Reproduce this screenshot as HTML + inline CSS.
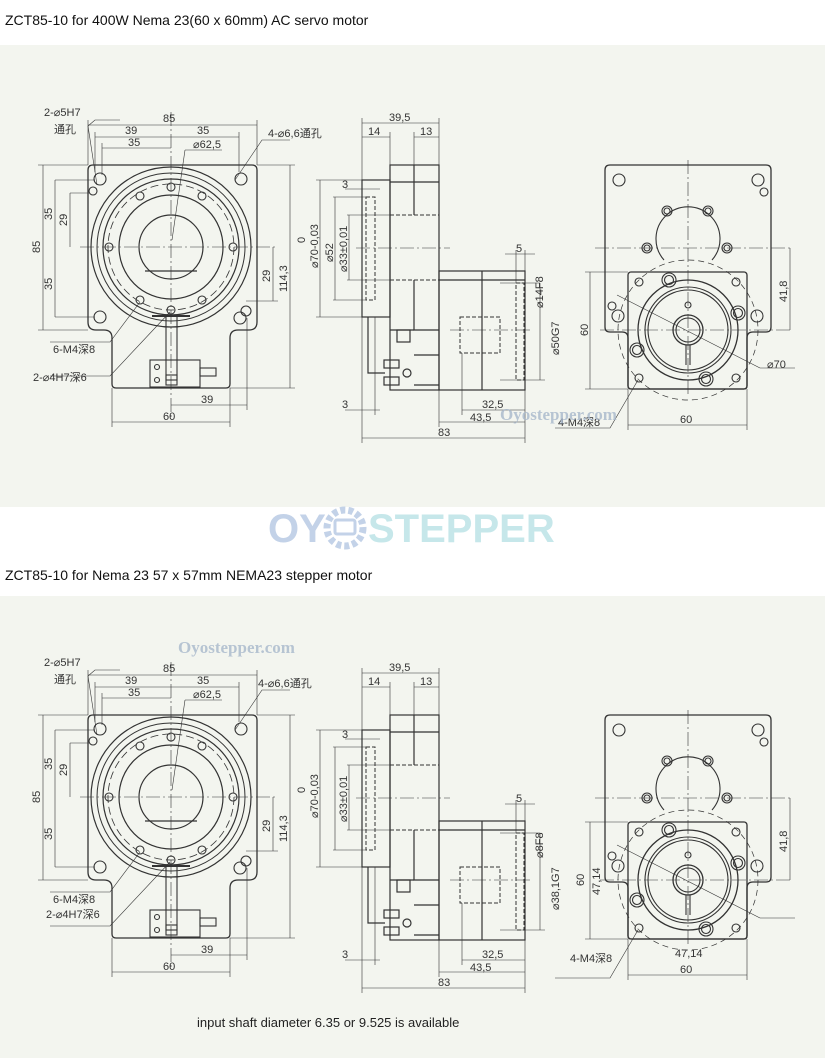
<!DOCTYPE html>
<html><head><meta charset="utf-8"><style>
html,body{margin:0;padding:0;background:#fff;width:825px;height:1058px;overflow:hidden}
svg{display:block}
text{font-family:"Liberation Sans","Noto Sans CJK SC",sans-serif;fill:#333}
.t{font-size:14px;fill:#111}
.d{font-size:11px}
</style></head><body>
<svg width="825" height="1058" viewBox="0 0 825 1058">
<defs>
<g id="dw" fill="none" stroke="#333">
 <!-- left view -->
 <path stroke-width="1.3" d="M88,170 Q88,165 93,165 L252,165 Q257,165 257,170 L257,322 Q257,330 249,330 L238,330 Q230,330 230,338 L230,384 Q230,388 226,388 L116,388 Q112,388 112,384 L112,338 Q112,330 104,330 L96,330 Q88,330 88,322 Z"/>
 <circle cx="171" cy="247" r="80" stroke-width="1.2"/>
 <circle cx="171" cy="247" r="74" stroke-width="1"/>
 <circle cx="171" cy="247" r="68" stroke-width="1.2"/>
 <circle cx="171" cy="247" r="63" stroke-width="0.8" stroke-dasharray="8 4"/>
 <circle cx="171" cy="247" r="52" stroke-width="1.2"/>
 <circle cx="171" cy="247" r="32" stroke-width="1.2"/>
 <line x1="145" y1="271" x2="197" y2="271" stroke-width="1.2"/>
 <g stroke-width="1.1">
 <circle cx="171" cy="187" r="4"/><circle cx="140" cy="196" r="4"/><circle cx="202" cy="196" r="4"/>
 <circle cx="109" cy="247" r="4"/><circle cx="233" cy="247" r="4"/><circle cx="140" cy="300" r="4"/>
 <circle cx="202" cy="300" r="4"/><circle cx="171" cy="310" r="4"/>
 <circle cx="100" cy="179" r="6"/><circle cx="241" cy="179" r="6"/><circle cx="100" cy="317" r="6"/>
 <circle cx="246" cy="311" r="5"/><circle cx="240" cy="318" r="6"/><circle cx="93" cy="191" r="4"/>
 <rect x="166" y="315" width="11" height="65"/><rect x="150" y="360" width="50" height="27"/>
 <rect x="200" y="368" width="16" height="8"/><line x1="152" y1="316" x2="190" y2="316" stroke-width="2"/>
 <circle cx="157" cy="367" r="2.5"/><circle cx="157" cy="380" r="2.5"/><rect x="166" y="375" width="11" height="10"/>
 </g>
 <g stroke-width="0.6" stroke-dasharray="14 3 2 3">
 <line x1="80" y1="247" x2="278" y2="247"/><line x1="171" y1="112" x2="171" y2="420"/>
 </g>
 <g stroke-width="0.6">
 <line x1="88" y1="120" x2="88" y2="165"/><line x1="257" y1="120" x2="257" y2="165"/>
 <line x1="88" y1="125" x2="257" y2="125"/>
 <line x1="95" y1="132" x2="95" y2="172"/><line x1="239" y1="132" x2="239" y2="172"/>
 <line x1="95" y1="137" x2="239" y2="137"/>
 <line x1="102" y1="143" x2="102" y2="175"/><line x1="102" y1="148" x2="171" y2="148"/>
 <line x1="38" y1="165" x2="88" y2="165"/><line x1="38" y1="330" x2="88" y2="330"/>
 <line x1="43" y1="165" x2="43" y2="330"/>
 <line x1="55" y1="180" x2="95" y2="180"/><line x1="55" y1="180" x2="55" y2="317"/><line x1="55" y1="317" x2="95" y2="317"/>
 <line x1="70" y1="193" x2="90" y2="193"/><line x1="70" y1="193" x2="70" y2="247"/>
 <line x1="273" y1="247" x2="273" y2="301"/><line x1="246" y1="301" x2="278" y2="301"/>
 <line x1="257" y1="165" x2="295" y2="165"/><line x1="230" y1="388" x2="295" y2="388"/>
 <line x1="290" y1="165" x2="290" y2="388"/>
 <line x1="171" y1="405" x2="247" y2="405"/><line x1="247" y1="318" x2="247" y2="410"/>
 <line x1="112" y1="388" x2="112" y2="427"/><line x1="230" y1="388" x2="230" y2="427"/>
 <line x1="112" y1="422" x2="230" y2="422"/>
 <polyline points="88,126 95,120 120,120"/><line x1="88" y1="126" x2="97" y2="185"/>
 <line x1="185" y1="150" x2="222" y2="150"/><line x1="185" y1="150" x2="172" y2="240"/>
 <polyline points="235,180 262,140 290,140"/>
 <polyline points="50,342 110,342 140,302"/>
 <polyline points="50,376 110,376 170,312"/>
 </g>
 <!-- middle view -->
 <g stroke-width="1.2">
 <rect x="362" y="180" width="28" height="137"/>
 <rect x="390" y="165" width="49" height="225"/>
 <polyline points="414,165 414,215"/><polyline points="414,280 414,330 439,330"/>
 <line x1="390" y1="182" x2="439" y2="182"/><line x1="390" y1="330" x2="414" y2="330"/>
 <rect x="397" y="330" width="13" height="12"/><rect x="439" y="271" width="86" height="119"/>
 <line x1="482" y1="271" x2="482" y2="390"/><line x1="439" y1="280" x2="525" y2="280"/>
 <line x1="414" y1="355" x2="439" y2="355"/><line x1="414" y1="385" x2="439" y2="385"/>
 <polyline points="368,317 368,373 385,373"/>
 <rect x="384" y="360" width="15" height="8"/><rect x="384" y="377" width="15" height="8"/>
 <circle cx="407" cy="373" r="4"/>
 </g>
 <g stroke-width="1" stroke-dasharray="4 2">
 <rect x="366" y="197" width="9" height="103"/>
 <line x1="390" y1="215" x2="439" y2="215"/><line x1="390" y1="280" x2="439" y2="280"/>
 <rect x="460" y="317" width="40" height="36"/><rect x="516" y="283" width="8" height="97"/>
 </g>
 <g stroke-width="0.6">
 <line x1="362" y1="118" x2="362" y2="443"/><line x1="439" y1="118" x2="439" y2="271"/>
 <line x1="362" y1="123" x2="439" y2="123"/>
 <line x1="390" y1="132" x2="390" y2="165"/><line x1="414" y1="132" x2="414" y2="165"/>
 <line x1="362" y1="137" x2="390" y2="137"/><line x1="414" y1="137" x2="439" y2="137"/>
 <line x1="345" y1="189" x2="380" y2="189"/>
 <line x1="316" y1="180" x2="362" y2="180"/><line x1="316" y1="317" x2="362" y2="317"/>
 <line x1="320" y1="180" x2="320" y2="317"/>
 <line x1="333" y1="197" x2="366" y2="197"/><line x1="333" y1="300" x2="366" y2="300"/>
 <line x1="335" y1="197" x2="335" y2="300"/>
 <line x1="347" y1="215" x2="390" y2="215"/><line x1="347" y1="280" x2="390" y2="280"/>
 <line x1="349" y1="215" x2="349" y2="280"/>
 <line x1="345" y1="410" x2="380" y2="410"/><line x1="375" y1="317" x2="375" y2="415"/>
 <line x1="462" y1="353" x2="462" y2="415"/><line x1="525" y1="390" x2="525" y2="443"/>
 <line x1="462" y1="410" x2="525" y2="410"/><line x1="439" y1="390" x2="439" y2="427"/>
 <line x1="439" y1="422" x2="525" y2="422"/><line x1="362" y1="438" x2="525" y2="438"/>
 <line x1="505" y1="254" x2="535" y2="254"/><line x1="516" y1="250" x2="516" y2="283"/><line x1="525" y1="250" x2="525" y2="271"/>
 <line x1="500" y1="283" x2="540" y2="283"/><line x1="540" y1="283" x2="540" y2="380"/><line x1="500" y1="380" x2="545" y2="380"/>
 </g>
 <line x1="356" y1="248" x2="450" y2="248" stroke-width="0.6" stroke-dasharray="14 3 2 3"/>
 <line x1="450" y1="330" x2="530" y2="330" stroke-width="0.6" stroke-dasharray="14 3 2 3"/>
 <!-- right view -->
 <path stroke-width="1.3" d="M605,170 Q605,165 610,165 L766,165 Q771,165 771,170 L771,327 Q771,332 766,332 L753,332 Q747,332 747,338 L747,386 Q747,389 744,389 L631,389 Q628,389 628,386 L628,338 Q628,332 622,332 L610,332 Q605,332 605,327 Z"/>
 <rect x="628" y="272" width="119" height="117" rx="3" stroke-width="1.3"/>
 <g stroke-width="1.1">
 <path d="M664,260 A32,32 0 1 1 712,260"/>
 <circle cx="667" cy="211" r="5"/><circle cx="667" cy="211" r="3"/><circle cx="708" cy="211" r="5"/><circle cx="708" cy="211" r="3"/>
 <circle cx="647" cy="248" r="5"/><circle cx="647" cy="248" r="3"/><circle cx="727" cy="248" r="5"/><circle cx="727" cy="248" r="3"/>
 <circle cx="688" cy="330" r="50" stroke-width="1.3"/><circle cx="688" cy="330" r="43"/><circle cx="688" cy="330" r="40"/>
 <circle cx="688" cy="330" r="15" stroke-width="1.3"/><circle cx="688" cy="330" r="12"/>
 <circle cx="639" cy="282" r="4"/><circle cx="736" cy="282" r="4"/><circle cx="639" cy="378" r="4"/><circle cx="736" cy="378" r="4"/>
 <circle cx="669" cy="280" r="7"/><circle cx="669" cy="280" r="4.5"/><circle cx="738" cy="313" r="7"/><circle cx="738" cy="313" r="4.5"/>
 <circle cx="637" cy="350" r="7"/><circle cx="637" cy="350" r="4.5"/><circle cx="706" cy="379" r="7"/><circle cx="706" cy="379" r="4.5"/>
 <circle cx="619" cy="180" r="6"/><circle cx="758" cy="180" r="6"/><circle cx="764" cy="192" r="4"/>
 <circle cx="612" cy="306" r="4"/><circle cx="618" cy="316" r="6"/><circle cx="757" cy="316" r="6"/>
 <line x1="686" y1="345" x2="686" y2="365"/><line x1="690" y1="345" x2="690" y2="365"/><circle cx="688" cy="305" r="3"/>
 </g>
 <circle cx="688" cy="330" r="70" stroke-width="0.7" stroke-dasharray="6 4"/>
 <g stroke-width="0.6" stroke-dasharray="14 3 2 3">
 <line x1="688" y1="160" x2="688" y2="395"/><line x1="595" y1="248" x2="790" y2="248"/><line x1="600" y1="330" x2="790" y2="330"/>
 </g>
 <g stroke-width="0.6">
 <line x1="617" y1="295" x2="760" y2="368"/><line x1="760" y1="368" x2="795" y2="368"/>
 <line x1="790" y1="248" x2="790" y2="330"/>
 <line x1="585" y1="272" x2="628" y2="272"/><line x1="585" y1="389" x2="628" y2="389"/><line x1="590" y1="272" x2="590" y2="389"/>
 <line x1="628" y1="389" x2="628" y2="430"/><line x1="747" y1="389" x2="747" y2="430"/><line x1="628" y1="425" x2="747" y2="425"/>
 <polyline points="555,428 610,428 638,380"/>
 </g>
</g>
</defs>
<text x="5" y="25" class="t">ZCT85-10 for 400W Nema 23(60 x 60mm) AC servo motor</text>
<rect x="0" y="45" width="825" height="462" fill="#f3f5ef"/>
<use href="#dw"/>
<g class="d">
<text x="163" y="122">85</text><text x="125" y="134">39</text><text x="197" y="134">35</text><text x="128" y="146">35</text>
<text x="193" y="148">⌀62,5</text><text x="44" y="116">2-⌀5H7</text><text x="54" y="133">通孔</text>
<text x="268" y="137">4-⌀6,6通孔</text>
<text transform="translate(40,253) rotate(-90)">85</text><text transform="translate(52,220) rotate(-90)">35</text>
<text transform="translate(52,290) rotate(-90)">35</text><text transform="translate(67,226) rotate(-90)">29</text>
<text transform="translate(270,282) rotate(-90)">29</text><text transform="translate(287,292) rotate(-90)">114,3</text>
<text x="53" y="353">6-M4深8</text><text x="33" y="381">2-⌀4H7深6</text>
<text x="201" y="403">39</text><text x="163" y="420">60</text>
<text x="389" y="121">39,5</text><text x="368" y="135">14</text><text x="420" y="135">13</text>
<text x="342" y="188">3</text><text x="342" y="408">3</text>
<text transform="translate(305,243) rotate(-90)">0</text>
<text transform="translate(318,268) rotate(-90)">⌀70-0,03</text>
<text transform="translate(333,262) rotate(-90)">⌀52</text>
<text transform="translate(347,272) rotate(-90)">⌀33±0,01</text>
<text x="516" y="252">5</text>
<text transform="translate(543,308) rotate(-90)">⌀14F8</text>
<text transform="translate(559,355) rotate(-90)">⌀50G7</text>
<text x="482" y="408">32,5</text><text x="470" y="421">43,5</text><text x="438" y="436">83</text>
<text transform="translate(787,302) rotate(-90)">41,8</text>
<text transform="translate(588,336) rotate(-90)">60</text>
<text x="767" y="368">⌀70</text><text x="558" y="426">4-M4深8</text><text x="680" y="423">60</text>
</g>
<text x="500" y="420" style="font-family:'Liberation Serif',serif;font-weight:bold;font-size:17px;fill:#a8b8cc;opacity:0.8">Oyostepper.com</text>

<text x="268" y="542" style="font-size:40px;font-weight:bold;fill:#c3d2e8">OY</text>
<circle cx="345" cy="528" r="18" fill="none" stroke="#c3d2e8" stroke-width="7" stroke-dasharray="5 3"/>
<rect x="335" y="520" width="20" height="14" rx="2" fill="none" stroke="#c3d2e8" stroke-width="3"/>
<text x="368" y="542" style="font-size:40px;font-weight:bold;fill:#c6e7ea">STEPPER</text>

<text x="5" y="580" class="t">ZCT85-10 for Nema 23 57 x 57mm NEMA23 stepper motor</text>
<rect x="0" y="596" width="825" height="462" fill="#f3f5ef"/>
<use href="#dw" transform="translate(0,550)"/>
<g class="d" transform="translate(0,550)">
<text x="163" y="122">85</text><text x="125" y="134">39</text><text x="197" y="134">35</text><text x="128" y="146">35</text>
<text x="193" y="148">⌀62,5</text><text x="44" y="116">2-⌀5H7</text><text x="54" y="133">通孔</text>
<text x="258" y="137">4-⌀6,6通孔</text>
<text transform="translate(40,253) rotate(-90)">85</text><text transform="translate(52,220) rotate(-90)">35</text>
<text transform="translate(52,290) rotate(-90)">35</text><text transform="translate(67,226) rotate(-90)">29</text>
<text transform="translate(270,282) rotate(-90)">29</text><text transform="translate(287,292) rotate(-90)">114,3</text>
<text x="53" y="353">6-M4深8</text><text x="46" y="368">2-⌀4H7深6</text>
<text x="201" y="403">39</text><text x="163" y="420">60</text>
<text x="389" y="121">39,5</text><text x="368" y="135">14</text><text x="420" y="135">13</text>
<text x="342" y="188">3</text><text x="342" y="408">3</text>
<text transform="translate(305,243) rotate(-90)">0</text>
<text transform="translate(318,268) rotate(-90)">⌀70-0,03</text>
<text transform="translate(347,272) rotate(-90)">⌀33±0,01</text>
<text x="516" y="252">5</text>
<text transform="translate(543,308) rotate(-90)">⌀8F8</text>
<text transform="translate(559,360) rotate(-90)">⌀38,1G7</text>
<text x="482" y="408">32,5</text><text x="470" y="421">43,5</text><text x="438" y="436">83</text>
<text transform="translate(787,302) rotate(-90)">41,8</text>
<text transform="translate(584,336) rotate(-90)">60</text>
<text transform="translate(600,345) rotate(-90)">47,14</text>
<text x="570" y="412">4-M4深8</text><text x="675" y="407">47,14</text><text x="680" y="423">60</text>
</g>
<text x="178" y="653" style="font-family:'Liberation Serif',serif;font-weight:bold;font-size:17px;fill:#a8b8cc;opacity:0.8">Oyostepper.com</text>
<text x="197" y="1027" style="font-size:13px;fill:#222">input shaft diameter 6.35 or 9.525 is available</text>
</svg>
</body></html>
